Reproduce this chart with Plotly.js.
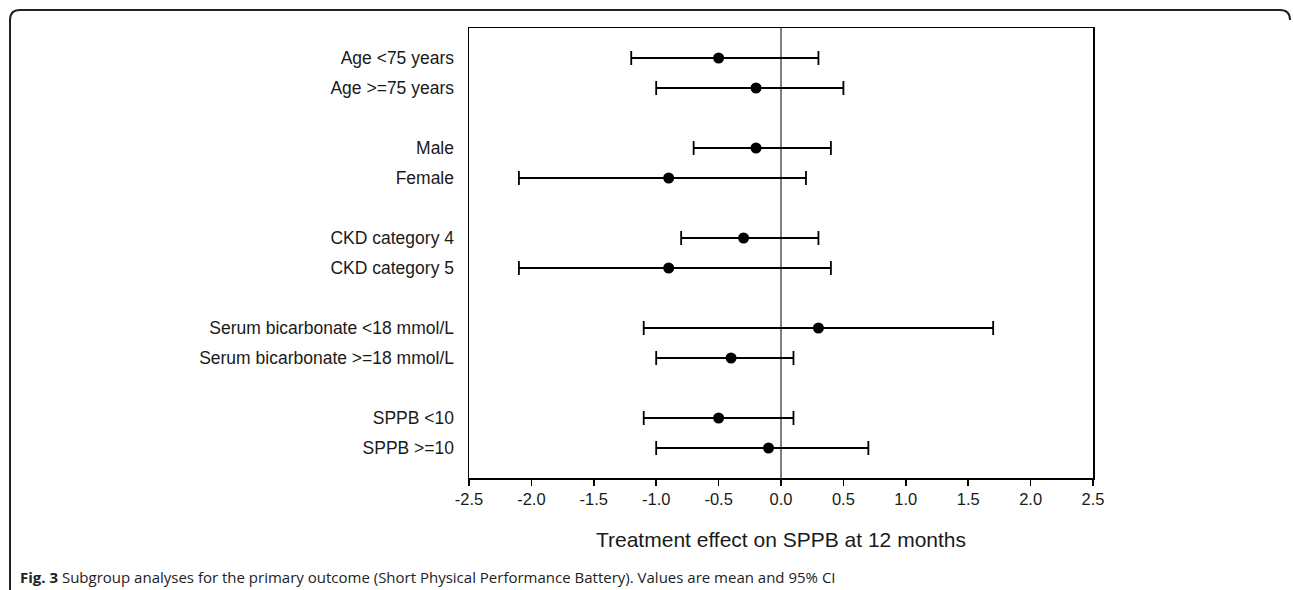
<!DOCTYPE html>
<html>
<head>
<meta charset="utf-8">
<script src="https://cdn.plot.ly/plotly-3.0.1.min.js"></script>
<style>
html,body{margin:0;padding:0;background:#fff;}
#chart{width:1293px;height:590px;}
</style>
</head>
<body>
<div id="chart"></div>
<script>
// ---- Data ----
var groupLabels = [
  ["Age <75 years", "Age >=75 years"],
  ["Male", "Female"],
  ["CKD category 4", "CKD category 5"],
  ["Serum bicarbonate <18 mmol/L", "Serum bicarbonate >=18 mmol/L"],
  ["SPPB <10", "SPPB >=10"]
];
var meanValues = [-0.5, -0.2, -0.2, -0.9, -0.3, -0.9, 0.3, -0.4, -0.5, -0.1];
var lowerCI    = [-1.2, -1.0, -0.7, -2.1, -0.8, -2.1, -1.1, -1.0, -1.1, -1.0];
var upperCI    = [ 0.3,  0.5,  0.4,  0.2,  0.3,  0.4,  1.7,  0.1,  0.1,  0.7];
var xTickValues = [-2.5, -2.0, -1.5, -1.0, -0.5, 0.0, 0.5, 1.0, 1.5, 2.0, 2.5];
var xTitle = "Treatment effect on SPPB at 12 months";
var caption = "<b>Fig. 3</b> Subgroup analyses for the primary outcome (Short Physical Performance Battery). Values are mean and 95% CI";

// ---- Build rows (blank spacer row between groups) ----
var labels = [], rowPos = [];
var pos = 1;
groupLabels.forEach(function (g, gi) {
  if (gi > 0) pos += 1;
  g.forEach(function (lab) { labels.push(lab); rowPos.push(pos); pos += 1; });
});
var lastRow = rowPos[rowPos.length - 1];

var errPlus = meanValues.map(function (m, i) { return upperCI[i] - m; });
var errMinus = meanValues.map(function (m, i) { return m - lowerCI[i]; });
var xTickText = xTickValues.map(function (v) { return v.toFixed(1); });

// ---- Layout geometry (pixels) ----
var W = 1293, H = 590;
var plotL = 469, plotR = 1093, plotT = 28, plotB = 478;
function px2x(px) { return (px - plotL) / (plotR - plotL); }
function py2y(py) { return (plotB - py) / (plotB - plotT); }

var trace = {
  type: "scatter",
  mode: "markers",
  x: meanValues,
  y: rowPos,
  marker: { color: "#000", size: 11 },
  error_x: {
    type: "data",
    symmetric: false,
    array: errPlus,
    arrayminus: errMinus,
    color: "#000",
    thickness: 1.8,
    width: 7
  },
  hoverinfo: "x+y",
  showlegend: false
};

// frame: top line with rounded corners, left line down to bottom
var r = 10;
var fx0 = 10, fx1 = 1290, fy0 = 10;
var framePath = "M " + px2x(fx0) + "," + py2y(H) +
  " L " + px2x(fx0) + "," + py2y(fy0 + r) +
  " Q " + px2x(fx0) + "," + py2y(fy0) + " " + px2x(fx0 + r) + "," + py2y(fy0) +
  " L " + px2x(fx1 - r) + "," + py2y(fy0) +
  " Q " + px2x(fx1) + "," + py2y(fy0) + " " + px2x(fx1) + "," + py2y(fy0 + r);

var layout = {
  width: W, height: H,
  margin: { l: plotL, r: W - plotR, t: plotT, b: H - plotB, pad: 0 },
  paper_bgcolor: "#fff",
  plot_bgcolor: "#fff",
  font: { family: "Liberation Sans, Arial, sans-serif", color: "#1a1a1a", size: 16 },
  xaxis: {
    range: [xTickValues[0], xTickValues[xTickValues.length - 1]],
    tickvals: xTickValues,
    ticktext: xTickText,
    ticks: "outside", ticklen: 6, tickwidth: 1.5, tickcolor: "#000",
    showline: true, linecolor: "#000", linewidth: 1.5, mirror: true,
    showgrid: false,
    zeroline: true, zerolinecolor: "#808080", zerolinewidth: 1.5,
    tickfont: { size: 16.5 },
    title: { text: xTitle, font: { size: 21 }, standoff: 25 }
  },
  yaxis: {
    range: [lastRow + 1, 0],
    tickvals: rowPos,
    ticktext: labels,
    ticks: "",
    ticklabelstandoff: 10,
    showline: true, linecolor: "#000", linewidth: 1.5, mirror: true,
    showgrid: false, zeroline: false,
    tickfont: { size: 17.5 }
  },
  shapes: [
    { type: "path", xref: "paper", yref: "paper", path: framePath,
      line: { color: "#222", width: 2 }, fillcolor: "rgba(0,0,0,0)" }
  ],
  annotations: [
    { xref: "paper", yref: "paper", x: px2x(18), y: py2y(577),
      xanchor: "left", yanchor: "middle", showarrow: false,
      text: caption,
      font: { family: "Open Sans, sans-serif", size: 15, color: "#222" } }
  ]
};

Plotly.newPlot("chart", [trace], layout, { displayModeBar: false, staticPlot: true });
</script>
</body>
</html>
